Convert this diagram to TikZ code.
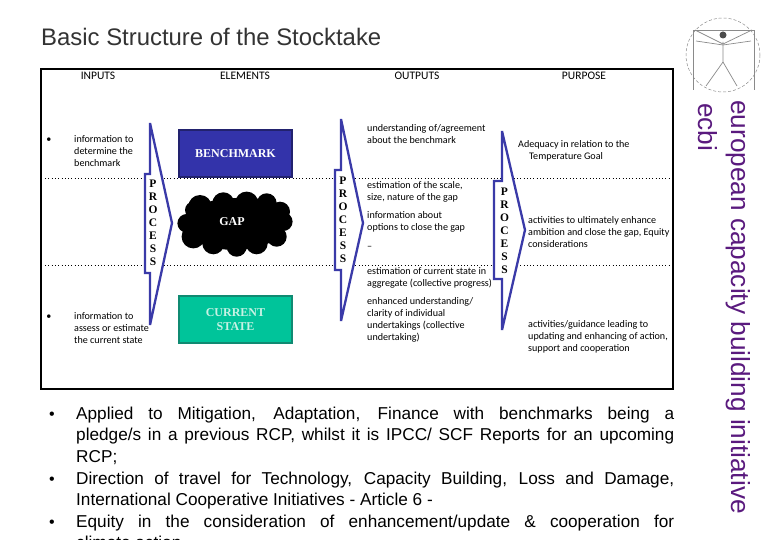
\documentclass[tikz,border=0pt]{standalone}
\usepackage{fontspec}
\setmainfont{Carlito}
\setsansfont{Liberation Sans}
\newfontfamily\boxfont{Liberation Serif}
\usepackage{xcolor}
\definecolor{ecbipurple}{HTML}{5A1A7E}
\definecolor{procblue}{HTML}{3A3AA8}
\definecolor{benchfill}{HTML}{3333AA}
\definecolor{benchline}{HTML}{22226E}
\definecolor{currfill}{HTML}{00C49A}
\definecolor{currline}{HTML}{108A72}
\definecolor{currtext}{HTML}{C8F2E4}
\definecolor{titlegrey}{HTML}{333333}
\definecolor{logogrey}{HTML}{8A8A8A}

\begin{document}
\begin{tikzpicture}[
  x=1pt,y=-1pt,
  hdr/.style={font=\fontsize{11.5}{12}\selectfont,inner sep=0pt},
  info/.style={font=\fontsize{10.1}{12}\selectfont,inner sep=0pt,anchor=west,align=left},
  dotline/.style={draw=black,line width=1pt,dash pattern=on 1pt off 2.3pt},
  procarrow/.style={draw=procblue,fill=white,line width=2.3pt,miter limit=3},
  proclabel/.style={font=\boxfont\bfseries\fontsize{11.5}{13}\selectfont,inner sep=0pt,align=center},
  bench/.style={draw=benchline,fill=benchfill,line width=2pt,minimum width=113pt,minimum height=47pt,align=center,text=white,font=\boxfont\bfseries\fontsize{12}{14}\selectfont},
  curr/.style={draw=currline,fill=currfill,line width=2pt,minimum width=113pt,minimum height=47pt,align=center,text=currtext,font=\boxfont\bfseries\fontsize{12}{14}\selectfont},
  gaplabel/.style={text=white,font=\boxfont\bfseries\fontsize{12}{14}\selectfont,inner sep=0pt},
  bul/.style={font=\fontsize{10.1}{12}\selectfont,inner sep=0pt},
  para/.style={font=\sffamily\fontsize{17.2}{21.6}\selectfont,inner sep=0pt,anchor=north west,text width=598pt,align=justify},
  parabul/.style={font=\sffamily\fontsize{16}{21.6}\selectfont,inner sep=0pt},
  brand/.style={font=\sffamily\fontsize{26.2}{30}\selectfont,text=ecbipurple,rotate=-90,anchor=west,inner sep=0pt}
]
\useasboundingbox (0,0) rectangle (780,540);
\clip (0,0) rectangle (780,540);
\fill[white] (0,0) rectangle (780,540);

\node[font=\sffamily\fontsize{23.9}{28}\selectfont,text=titlegrey,anchor=west,inner sep=0pt] (title) at (41,37) {Basic Structure of the Stocktake};

\draw[line width=2pt] (41,69) rectangle (673,389);
\draw[dotline] (45,178.7) -- (670,178.7);
\draw[dotline] (45,266) -- (670,266);

\node[hdr] (inputs) at (98,76) {INPUTS};
\node[hdr] (elements) at (245,76) {ELEMENTS};
\node[hdr] (outputs) at (417,76) {OUTPUTS};
\node[hdr] (purpose) at (584,76) {PURPOSE};

\draw[procarrow] (150,123) -- (172,223) -- (150,325) -- (150,273) -- (145,273) -- (145,174) -- (150,174) -- cycle;
\draw[procarrow] (341,119) -- (363,223) -- (341,321) -- (341,270) -- (335,270) -- (335,170) -- (341,170) -- cycle;
\draw[procarrow] (502,131) -- (525,230) -- (502,330) -- (502,279) -- (494,279) -- (494,181) -- (502,181) -- cycle;
\node[proclabel] (proca) at (153,223) {P\\R\\O\\C\\E\\S\\S};
\node[proclabel] (procb) at (343,220) {P\\R\\O\\C\\E\\S\\S};
\node[proclabel] (procc) at (504.5,231) {P\\R\\O\\C\\E\\S\\S};

\node[bench] (benchmark) at (235.5,153.5) {BENCHMARK};
\fill[black] (235,224) ellipse (50 and 26)
  (200,206.7) circle (11.7) (223.3,203.3) circle (11) (246.7,203.3) circle (11.7)
  (266.7,203.3) circle (10) (280,211.7) circle (10) (283.3,221.7) circle (9.3)
  (276.7,236.7) circle (10) (256.7,243.3) circle (11) (236.7,246.7) circle (10)
  (213.3,243.3) circle (11) (193.3,236.7) circle (11.7) (186.7,223.3) circle (9.3)
  (193.3,210) circle (8.3);
\node[gaplabel] (gap) at (232,222) {GAP};
\node[curr] (current) at (235.5,319.5) {CURRENT\\STATE};

\node[bul] (bula) at (49,140) {•};
\node[info] (ina) at (74,151) {information to\\determine the\\benchmark};
\node[bul] (bulb) at (49,317) {•};
\node[info] (inb) at (74,328) {information to\\assess or estimate\\the current state};

\node[info] (outa) at (367,134) {understanding of/agreement\\about the benchmark};
\node[info] (outb) at (367,192) {estimation of the scale,\\size, nature of the gap};
\node[info] (outc) at (367,222) {information about\\options to close the gap};
\node[info] (outd) at (367,248) {--};
\node[info] (oute) at (367,278) {estimation of current state in\\aggregate (collective progress)};
\node[info] (outf) at (367,320) {enhanced understanding/\\clarity of individual\\undertakings (collective\\undertaking)};

\node[info] (pura) at (518,151) {Adequacy in relation to the\\\hspace{11pt}Temperature Goal};
\node[info] (purb) at (528,232) {activities to ultimately enhance\\ambition and close the gap, Equity\\considerations};
\node[info] (purc) at (528,337) {activities/guidance leading to\\updating and enhancing of action,\\support and cooperation};

\node[parabul] (bulc) at (52,416) {•};
\node[parabul] (buld) at (52,481) {•};
\node[parabul] (bule) at (52,524) {•};
\node[para] (parc) at (76,406.5) {Applied to Mitigation, Adaptation, Finance with benchmarks being a\linebreak pledge/s in a previous RCP, whilst it is IPCC/ SCF Reports for an upcoming\linebreak RCP;};
\node[para] (pard) at (76,471.5) {Direction of travel for Technology, Capacity Building, Loss and Damage,\linebreak International Cooperative Initiatives - Article 6 -};
\node[para] (pare) at (76,514.5) {Equity in the consideration of enhancement/update \& cooperation for\linebreak climate action};

\node[brand] (brandname) at (738,100) {european capacity building initiative};
\node[brand] (brandshort) at (708,103) {ecbi};

\draw[logogrey,line width=0.5pt,densely dashed] (723,55) circle (37);
\draw[logogrey,line width=0.5pt] (693,90) -- (693,30) -- (754,30) -- (754,90);
\draw[logogrey,line width=0.7pt] (723,42) -- (723,62) -- (706,86);
\draw[logogrey,line width=0.7pt] (723,62) -- (737,86);
\draw[logogrey,line width=0.7pt] (695,30) -- (723,44) -- (752,30);
\draw[logogrey,line width=0.7pt] (696,41) -- (723,45) -- (751,41);
\fill[black!70] (723,35) circle (3.5);
\end{tikzpicture}
\end{document}
